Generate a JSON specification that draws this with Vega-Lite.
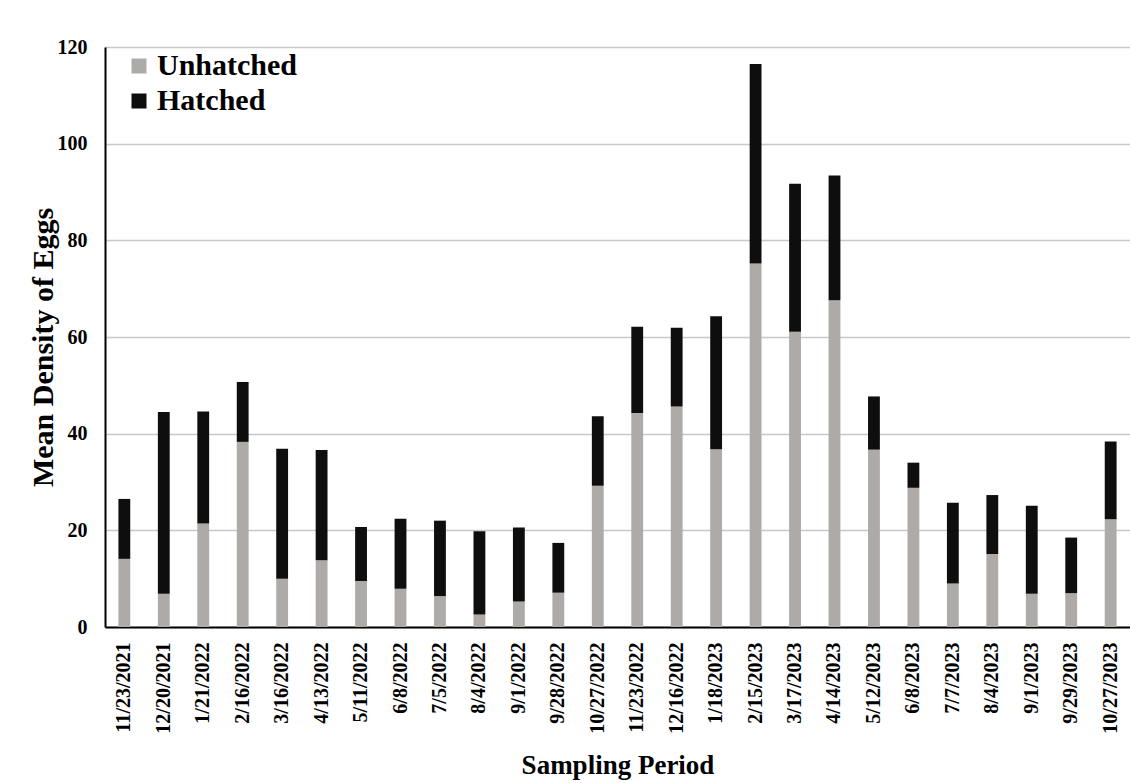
{
  "$schema": "https://vega.github.io/schema/vega-lite/v6.json",
  "autosize": {"type": "none"},
  "width": 1025,
  "height": 580,
  "padding": {"left": 105, "top": 47, "right": 0, "bottom": 156},
  "background": "white",
  "data": {"values": [
    {"date": "11/23/2021", "status": "Unhatched", "value": 14.1},
    {"date": "11/23/2021", "status": "Hatched", "value": 12.4},
    {"date": "12/20/2021", "status": "Unhatched", "value": 6.9},
    {"date": "12/20/2021", "status": "Hatched", "value": 37.6},
    {"date": "1/21/2022", "status": "Unhatched", "value": 21.4},
    {"date": "1/21/2022", "status": "Hatched", "value": 23.2},
    {"date": "2/16/2022", "status": "Unhatched", "value": 38.3},
    {"date": "2/16/2022", "status": "Hatched", "value": 12.4},
    {"date": "3/16/2022", "status": "Unhatched", "value": 10.0},
    {"date": "3/16/2022", "status": "Hatched", "value": 26.9},
    {"date": "4/13/2022", "status": "Unhatched", "value": 13.8},
    {"date": "4/13/2022", "status": "Hatched", "value": 22.8},
    {"date": "5/11/2022", "status": "Unhatched", "value": 9.5},
    {"date": "5/11/2022", "status": "Hatched", "value": 11.2},
    {"date": "6/8/2022", "status": "Unhatched", "value": 7.9},
    {"date": "6/8/2022", "status": "Hatched", "value": 14.5},
    {"date": "7/5/2022", "status": "Unhatched", "value": 6.4},
    {"date": "7/5/2022", "status": "Hatched", "value": 15.6},
    {"date": "8/4/2022", "status": "Unhatched", "value": 2.6},
    {"date": "8/4/2022", "status": "Hatched", "value": 17.2},
    {"date": "9/1/2022", "status": "Unhatched", "value": 5.3},
    {"date": "9/1/2022", "status": "Hatched", "value": 15.3},
    {"date": "9/28/2022", "status": "Unhatched", "value": 7.1},
    {"date": "9/28/2022", "status": "Hatched", "value": 10.3},
    {"date": "10/27/2022", "status": "Unhatched", "value": 29.2},
    {"date": "10/27/2022", "status": "Hatched", "value": 14.4},
    {"date": "11/23/2022", "status": "Unhatched", "value": 44.3},
    {"date": "11/23/2022", "status": "Hatched", "value": 17.8},
    {"date": "12/16/2022", "status": "Unhatched", "value": 45.6},
    {"date": "12/16/2022", "status": "Hatched", "value": 16.3},
    {"date": "1/18/2023", "status": "Unhatched", "value": 36.8},
    {"date": "1/18/2023", "status": "Hatched", "value": 27.5},
    {"date": "2/15/2023", "status": "Unhatched", "value": 75.2},
    {"date": "2/15/2023", "status": "Hatched", "value": 41.3},
    {"date": "3/17/2023", "status": "Unhatched", "value": 61.1},
    {"date": "3/17/2023", "status": "Hatched", "value": 30.6},
    {"date": "4/14/2023", "status": "Unhatched", "value": 67.6},
    {"date": "4/14/2023", "status": "Hatched", "value": 25.8},
    {"date": "5/12/2023", "status": "Unhatched", "value": 36.7},
    {"date": "5/12/2023", "status": "Hatched", "value": 11.0},
    {"date": "6/8/2023", "status": "Unhatched", "value": 28.8},
    {"date": "6/8/2023", "status": "Hatched", "value": 5.2},
    {"date": "7/7/2023", "status": "Unhatched", "value": 9.0},
    {"date": "7/7/2023", "status": "Hatched", "value": 16.7},
    {"date": "8/4/2023", "status": "Unhatched", "value": 15.1},
    {"date": "8/4/2023", "status": "Hatched", "value": 12.2},
    {"date": "9/1/2023", "status": "Unhatched", "value": 6.9},
    {"date": "9/1/2023", "status": "Hatched", "value": 18.2},
    {"date": "9/29/2023", "status": "Unhatched", "value": 7.0},
    {"date": "9/29/2023", "status": "Hatched", "value": 11.5},
    {"date": "10/27/2023", "status": "Unhatched", "value": 22.3},
    {"date": "10/27/2023", "status": "Hatched", "value": 16.1}
  ]},
  "mark": {"type": "bar"},
  "encoding": {
    "x": {
      "field": "date", "type": "nominal", "sort": null,
      "scale": {"paddingInner": 0.7, "paddingOuter": 0.34},
      "axis": {
        "title": "Sampling Period",
        "labelAngle": -90,
        "labelPadding": 15,
        "labelFontSize": 20,
        "labelFont": "Liberation Serif",
        "labelFontWeight": "bold",
        "labelColor": "black",
        "ticks": false,
        "domainColor": "black",
        "domainWidth": 2,
        "titleFont": "Liberation Serif",
        "titleFontSize": 27,
        "titleFontWeight": "bold",
        "titleColor": "black",
        "titleBaseline": "alphabetic",
        "titleY": 146
      }
    },
    "y": {
      "field": "value", "type": "quantitative", "stack": "zero",
      "scale": {"domain": [0, 120], "nice": false},
      "axis": {
        "title": "Mean Density of Eggs",
        "values": [0, 20, 40, 60, 80, 100, 120],
        "grid": true,
        "gridColor": "#C8C8C8",
        "gridWidth": 1.5,
        "ticks": false,
        "labelPadding": 18,
        "labelFontSize": 20,
        "labelFont": "Liberation Serif",
        "labelFontWeight": "bold",
        "labelColor": "black",
        "domainColor": "black",
        "domainWidth": 2,
        "titleFont": "Liberation Serif",
        "titleFontSize": 30,
        "titleFontWeight": "bold",
        "titleColor": "black",
        "titleAngle": -90,
        "titleAlign": "center",
        "titleBaseline": "alphabetic",
        "titleX": -53,
        "titleY": 300
      }
    },
    "color": {
      "field": "status", "type": "nominal",
      "sort": ["Unhatched", "Hatched"],
      "scale": {"domain": ["Unhatched", "Hatched"], "range": ["#ADAAA8", "#0E0E0E"]},
      "legend": {
        "title": null,
        "orient": "none",
        "legendX": 19,
        "legendY": 4,
        "direction": "vertical",
        "symbolType": "square",
        "symbolSize": 225,
        "symbolStrokeWidth": 0,
        "labelFont": "Liberation Serif",
        "labelFontSize": 30,
        "labelFontWeight": "bold",
        "labelColor": "black",
        "labelOffset": 3,
        "rowPadding": 5
      }
    }
  },
  "config": {"view": {"stroke": null}}
}
